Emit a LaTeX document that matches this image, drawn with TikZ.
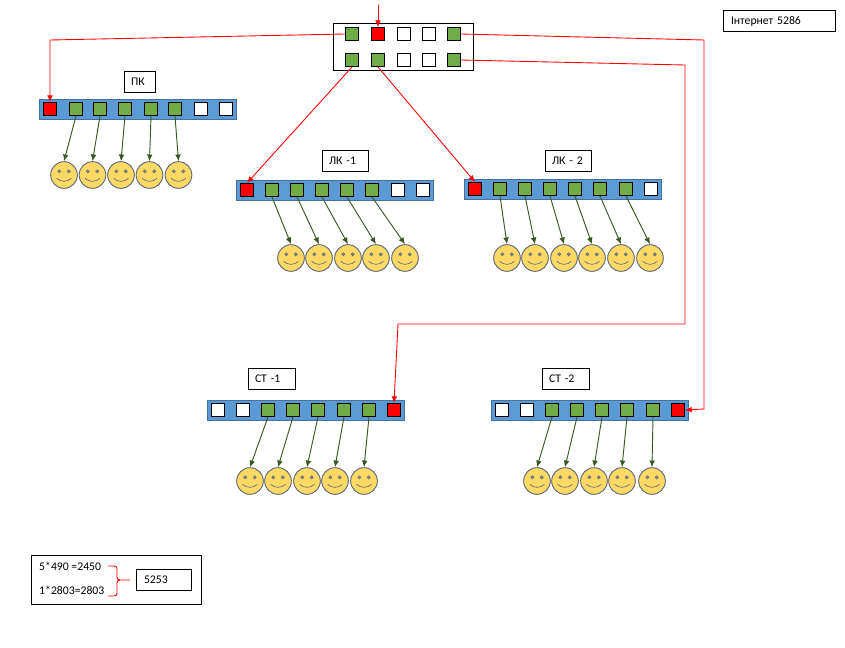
\documentclass[tikz,border=0pt]{standalone}
\usepackage{fontspec}
\usepackage{xcolor}
\usepackage{tikz}
\usetikzlibrary{arrows.meta}
\setmainfont{Carlito}
\definecolor{barblue}{HTML}{5B9BD5}
\definecolor{barline}{HTML}{41719C}
\definecolor{portgreen}{HTML}{70AD47}
\definecolor{wiregreen}{HTML}{385723}
\definecolor{faceyellow}{HTML}{FFD966}
\definecolor{faceline}{HTML}{5F6B7A}

\begin{document}
\begin{tikzpicture}[x=0.03cm, y=-0.03cm, >={Latex[length=0.2cm,width=0.17cm]},
  bar/.style={draw=barline, fill=barblue, line width=0.8pt, minimum width=5.91cm, minimum height=0.6cm, inner sep=0pt},
  port/.style={draw=black, line width=0.8pt, minimum size=0.39cm, inner sep=0pt},
  green/.style={port, fill=portgreen},
  free/.style={port, fill=white},
  used/.style={port, fill=red},
  tag/.style={draw=black, line width=0.8pt, fill=white, minimum height=0.63cm, inner xsep=0.2cm, inner ysep=0pt, align=left},
  frame/.style={draw=black, line width=0.8pt, inner sep=0pt},
  wire/.style={draw=red, line width=0.75pt},
  drop/.style={draw=wiregreen, line width=0.8pt, ->},
  face/.style={circle, draw=faceline, fill=faceyellow, line width=0.8pt, minimum size=0.8cm, inner sep=0pt,
    path picture={
      \fill[faceline!70!faceyellow, draw=faceline, line width=0.4pt] (path picture bounding box.center) ++(-0.14cm,0.11cm) circle (0.05cm);
      \fill[faceline!70!faceyellow, draw=faceline, line width=0.4pt] (path picture bounding box.center) ++(0.14cm,0.11cm) circle (0.05cm);
      \draw[faceline, line width=0.55pt] (path picture bounding box.center) ++(-0.22cm,-0.1cm) .. controls +(0.12cm,-0.12cm) and +(-0.12cm,-0.12cm) .. +(0.44cm,0cm);
    }}]
\useasboundingbox (0,0) rectangle (845,647);
% switch at the top
\node[frame, minimum width=4.2cm, minimum height=1.41cm] (top) at (403.5,47) {};
\node[green] (t0) at (352,34) {};
\node[used] (t1) at (378,34) {};
\node[free] (t2) at (404,34) {};
\node[free] (t3) at (429,34) {};
\node[green] (t4) at (454,34) {};
\node[green] (t5) at (352,60) {};
\node[green] (t6) at (378,60) {};
\node[free] (t7) at (404,60) {};
\node[free] (t8) at (429,60) {};
\node[green] (t9) at (454,60) {};
\coordinate (uplink) at (378,5);
\node[tag, text width=2.88cm, inner xsep=0.24cm] (total) at (779,21) {Інтернет 5286};
% ПК
\node[tag, text width=0.54cm] (tagA) at (140,82) {ПК};
\node[bar] (barA) at (138,109) {};
\node[used] (a0) at (50,109) {};
\node[green] (a1) at (76,109) {};
\node[green] (a2) at (100,109) {};
\node[green] (a3) at (125,109) {};
\node[green] (a4) at (151,109) {};
\node[green] (a5) at (175,109) {};
\node[free] (a6) at (201,109) {};
\node[free] (a7) at (226,109) {};
\node[face] (fa1) at (64,175) {};
\node[face] (fa2) at (92.5,175) {};
\node[face] (fa3) at (121,175) {};
\node[face] (fa4) at (149.5,175) {};
\node[face] (fa5) at (178.5,175) {};
\draw[drop] (a1.south) -- (fa1.north);
\draw[drop] (a2.south) -- (fa2.north);
\draw[drop] (a3.south) -- (fa3.north);
\draw[drop] (a4.south) -- (fa4.north);
\draw[drop] (a5.south) -- (fa5.north);
% ЛК -1
\node[tag, text width=0.99cm] (tagB) at (345.5,161) {ЛК -1};
\node[bar] (barB) at (335,190) {};
\node[used] (b0) at (247,190) {};
\node[green] (b1) at (272,190) {};
\node[green] (b2) at (297,190) {};
\node[green] (b3) at (322,190) {};
\node[green] (b4) at (347,190) {};
\node[green] (b5) at (372,190) {};
\node[free] (b6) at (398,190) {};
\node[free] (b7) at (423,190) {};
\node[face] (fb1) at (291,258) {};
\node[face] (fb2) at (319,258) {};
\node[face] (fb3) at (348,258) {};
\node[face] (fb4) at (376,258) {};
\node[face] (fb5) at (405,258) {};
\draw[drop] (b1.south) -- (fb1.north);
\draw[drop] (b2.south) -- (fb2.north);
\draw[drop] (b3.south) -- (fb3.north);
\draw[drop] (b4.south) -- (fb4.north);
\draw[drop] (b5.south) -- (fb5.north);
% ЛК - 2
\node[tag, text width=0.99cm] (tagC) at (568.5,160.5) {ЛК - 2};
\node[bar] (barC) at (563,189.5) {};
\node[used] (c0) at (475,189) {};
\node[green] (c1) at (500,189) {};
\node[green] (c2) at (525,189) {};
\node[green] (c3) at (550,189) {};
\node[green] (c4) at (575,189) {};
\node[green] (c5) at (600,189) {};
\node[green] (c6) at (626,189) {};
\node[free] (c7) at (651,189) {};
\node[face] (fc1) at (507,258) {};
\node[face] (fc2) at (535,258) {};
\node[face] (fc3) at (564,258) {};
\node[face] (fc4) at (592,258) {};
\node[face] (fc5) at (621,258) {};
\node[face] (fc6) at (650,258) {};
\draw[drop] (c1.south) -- (fc1.north);
\draw[drop] (c2.south) -- (fc2.north);
\draw[drop] (c3.south) -- (fc3.north);
\draw[drop] (c4.south) -- (fc4.north);
\draw[drop] (c5.south) -- (fc5.north);
\draw[drop] (c6.south) -- (fc6.north);
% СТ -1
\node[tag, text width=1.02cm] (tagD) at (272,379) {СТ -1};
\node[bar] (barD) at (306,410) {};
\node[free] (d0) at (218,410) {};
\node[free] (d1) at (243,410) {};
\node[green] (d2) at (268,410) {};
\node[green] (d3) at (293,410) {};
\node[green] (d4) at (318,410) {};
\node[green] (d5) at (344,410) {};
\node[green] (d6) at (369,410) {};
\node[used] (d7) at (394,410) {};
\node[face] (fd1) at (250,481) {};
\node[face] (fd2) at (278,481) {};
\node[face] (fd3) at (307,481) {};
\node[face] (fd4) at (335,481) {};
\node[face] (fd5) at (364,481) {};
\draw[drop] (d2.south) -- (fd1.north);
\draw[drop] (d3.south) -- (fd2.north);
\draw[drop] (d4.south) -- (fd3.north);
\draw[drop] (d5.south) -- (fd4.north);
\draw[drop] (d6.south) -- (fd5.north);
% СТ -2
\node[tag, text width=1.02cm] (tagE) at (566,379) {СТ -2};
\node[bar] (barE) at (590,410) {};
\node[free] (e0) at (502,410) {};
\node[free] (e1) at (527,410) {};
\node[green] (e2) at (552,410) {};
\node[green] (e3) at (577,410) {};
\node[green] (e4) at (602,410) {};
\node[green] (e5) at (627,410) {};
\node[green] (e6) at (653,410) {};
\node[used] (e7) at (678,410) {};
\node[face] (fe1) at (537,481) {};
\node[face] (fe2) at (565,481) {};
\node[face] (fe3) at (594,481) {};
\node[face] (fe4) at (622,481) {};
\node[face] (fe5) at (652,481) {};
\draw[drop] (e2.south) -- (fe1.north);
\draw[drop] (e3.south) -- (fe2.north);
\draw[drop] (e4.south) -- (fe3.north);
\draw[drop] (e5.south) -- (fe4.north);
\draw[drop] (e6.south) -- (fe5.north);
% red links from the switch
\coordinate (bendA) at (50,40);
\coordinate (bendE1) at (704,40);
\coordinate (bendE2) at (704,409);
\coordinate (bendD1) at (685,65);
\coordinate (bendD2) at (685,324);
\coordinate (bendD3) at (398,324);
\draw[wire, ->] (uplink) -- (t1.north);
\draw[wire, ->] (t0.west) -- (bendA) -- (a0.north);
\draw[wire, ->] (t4.east) -- (bendE1) -- (bendE2) -- (e7.east);
\draw[wire, ->] (t9.east) -- (bendD1) -- (bendD2) -- (bendD3) -- (d7.north);
\draw[wire, ->] (t5.south) -- (b0.north);
\draw[wire, ->] (t6.south) -- (c0.north);
% sum in the lower corner
\node[frame, minimum width=5.1cm, minimum height=1.47cm] (sum) at (116.5,580) {};
\node[anchor=west, inner sep=0pt] (line1) at (39,566) {5*490 =2450};
\node[anchor=west, inner sep=0pt] (line2) at (39,590) {1*2803=2803};
\node[tag, text width=1.2cm, inner xsep=0.23cm] (result) at (164,579.5) {5253};
\draw[wire] (108,566) -- (114,566) .. controls (116,566) and (117,567) .. (117,569) -- (117,577) .. controls (117,579) and (118,580) .. (120,580) -- (130,580);
\draw[wire] (108,596) -- (114,596) .. controls (116,596) and (117,595) .. (117,593) -- (117,583) .. controls (117,581) and (118,580) .. (120,580);
\end{tikzpicture}
\end{document}
